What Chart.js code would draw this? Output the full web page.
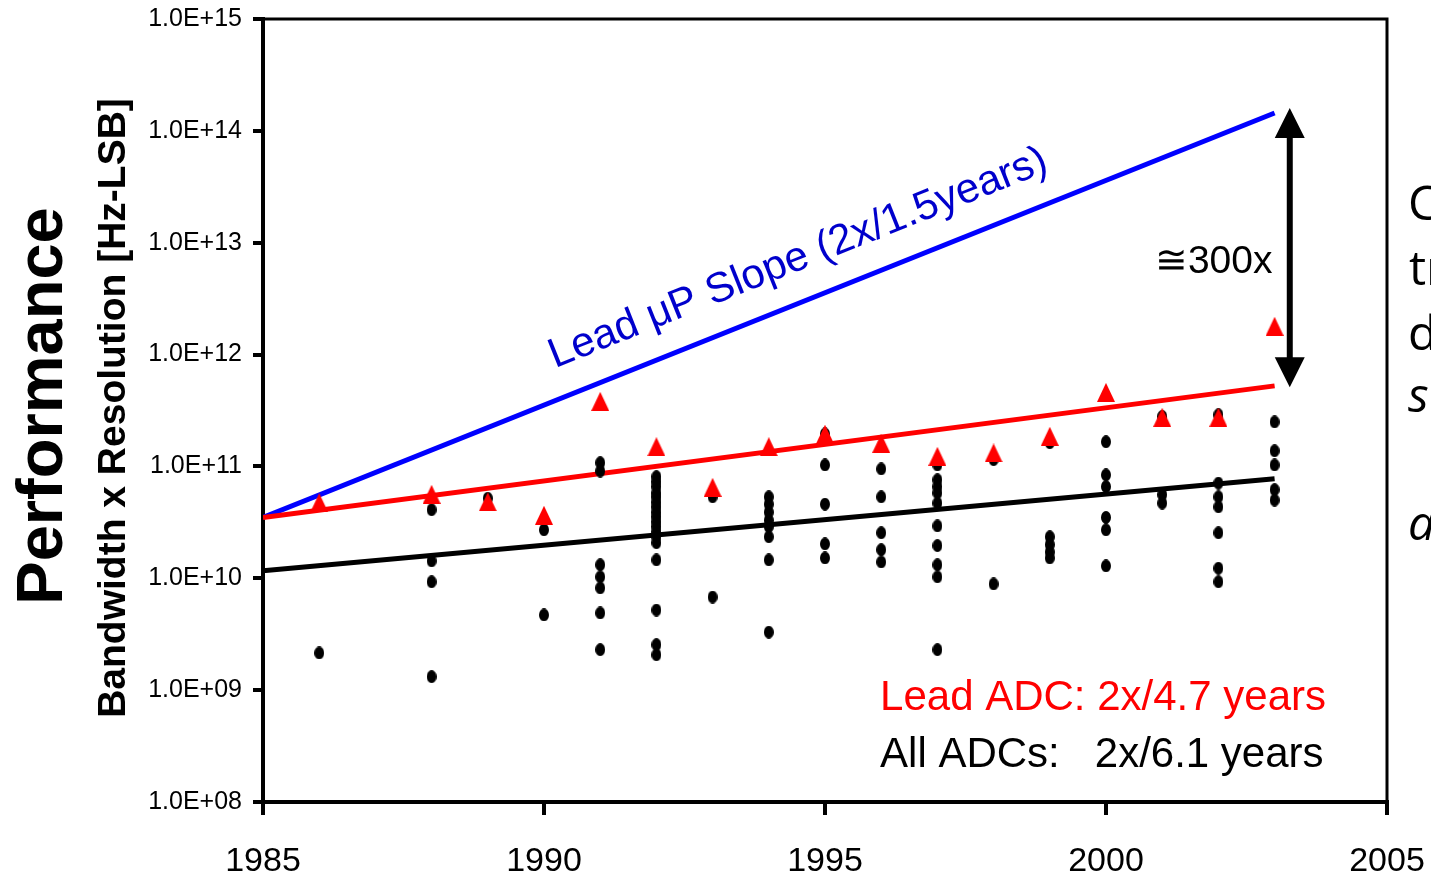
<!DOCTYPE html>
<html>
<head>
<meta charset="utf-8">
<title>ADC performance vs. microprocessor slope</title>
<script src="https://cdn.jsdelivr.net/npm/chart.js@4"></script>
<style>
  html, body { margin: 0; padding: 0; background: #fff; overflow: hidden; }
  #wrap { width: 1431px; height: 882px; position: relative; }
</style>
</head>
<body>
<div id="wrap"><canvas id="chart"></canvas></div>
<script>
// Axis ticks
const xTicks = [1985, 1990, 1995, 2000, 2005];
const yTicks = [1e8, 1e9, 1e10, 1e11, 1e12, 1e13, 1e14, 1e15];
const yTickLabels = ['1.0E+08', '1.0E+09', '1.0E+10', '1.0E+11', '1.0E+12', '1.0E+13', '1.0E+14', '1.0E+15'];

// Lead ADCs (red triangles), bandwidth x resolution [Hz-LSB]
const leadYears = [1986, 1988, 1989, 1990, 1991, 1992, 1993, 1994, 1995, 1996, 1997, 1998, 1999, 2000, 2001, 2002, 2003];
const leadValues = [4.73e10, 5.63e10, 4.83e10, 3.66e10, 3.82e11, 1.50e11, 6.5e10, 1.50e11, 1.94e11, 1.61e11, 1.23e11, 1.32e11, 1.86e11, 4.59e11, 2.75e11, 2.75e11, 1.79e12];

// All ADCs (black dots), one list of values per year
const allYears = [1986, 1988, 1989, 1990, 1991, 1992, 1993, 1994, 1995, 1996, 1997, 1998, 1999, 2000, 2001, 2002, 2003];
const allValues = [
  [2.15e9],
  [4.1e10, 1.43e10, 9.3e9, 1.32e9],
  [5.2e10],
  [2.71e10, 4.7e9],
  [1.08e11, 9.1e10, 1.32e10, 1.03e10, 8.2e9, 4.9e9, 2.3e9],
  [8.1e10, 7.3e10, 6.6e10, 5.8e10, 5.35e10, 4.8e10, 4.35e10, 3.9e10, 3.55e10, 3.2e10, 2.9e10, 2.6e10, 2.35e10, 2.08e10, 1.46e10, 5.2e9, 2.55e9, 2.07e9],
  [5.35e10, 6.8e9],
  [5.35e10, 4.6e10, 3.9e10, 3.3e10, 2.9e10, 2.35e10, 1.46e10, 3.3e9],
  [1.95e11, 1.03e11, 4.6e10, 2.03e10, 1.52e10],
  [9.5e10, 5.35e10, 2.55e10, 1.8e10, 1.4e10],
  [1.03e11, 7.6e10, 6.6e10, 5.8e10, 4.7e10, 2.94e10, 1.96e10, 1.32e10, 1.03e10, 2.3e9],
  [1.15e11, 8.9e9],
  [1.63e11, 2.35e10, 2.0e10, 1.72e10, 1.52e10],
  [1.66e11, 8.4e10, 6.6e10, 3.5e10, 2.71e10, 1.29e10],
  [2.8e11, 5.6e10, 4.7e10],
  [2.9e11, 7.1e10, 5.35e10, 4.35e10, 2.55e10, 1.23e10, 9.3e9],
  [2.5e11, 1.38e11, 1.03e11, 6.2e10, 5.0e10]
];

// Trend lines, 1985 -> 2003
const trendYears = [1985, 2003];
const upSlope = [3.5e10, 1.445e14];    // 2x / 1.5 years
const leadSlope = [3.5e10, 5.25e11];   // 2x / 4.7 years
const allSlope = [1.17e10, 7.75e10];   // 2x / 6.1 years

// ~300x gap arrow
const gapYear = 2003.27;
const gapFrom = 1.6e14;
const gapTo = 5.1e11;

// marker images (markers on the slide are a bit taller than wide)
function makeDot() {
  const c = document.createElement('canvas');
  c.width = 10; c.height = 13;
  const g = c.getContext('2d');
  g.fillStyle = '#000';
  g.beginPath();
  g.ellipse(5, 6.5, 5, 6.5, 0, 0, Math.PI * 2);
  g.fill();
  return c;
}
function makeTriangle() {
  const c = document.createElement('canvas');
  c.width = 18; c.height = 19;
  const g = c.getContext('2d');
  g.fillStyle = '#ff0000';
  g.beginPath();
  g.moveTo(9, 0); g.lineTo(18, 19); g.lineTo(0, 19);
  g.closePath();
  g.fill();
  return c;
}

const toPoints = (xs, ys) => xs.map((v, i) => ({x: v, y: ys[i]}));
const allPoints = allYears.flatMap((yr, i) => allValues[i].map(v => ({x: yr, y: v})));

function drawText(ctx, str, px, py, font, color, align, angle) {
  ctx.save();
  ctx.translate(px, py);
  if (angle) ctx.rotate(angle);
  ctx.font = font;
  ctx.fillStyle = color;
  ctx.textAlign = align || 'left';
  ctx.textBaseline = 'alphabetic';
  ctx.fillText(str, 0, 0);
  ctx.restore();
}

const decor = {
  id: 'decor',
  afterDraw(chart) {
    const {ctx, chartArea: a} = chart;
    const x = chart.scales.x, y = chart.scales.y;
    ctx.save();

    // top and right frame
    ctx.strokeStyle = '#000';
    ctx.lineWidth = 3;
    ctx.beginPath();
    ctx.moveTo(a.left, a.top);
    ctx.lineTo(a.right, a.top);
    ctx.lineTo(a.right, a.bottom);
    ctx.stroke();

    // double-headed arrow
    const ax = x.getPixelForValue(gapYear);
    const t = y.getPixelForValue(gapFrom);
    const b = y.getPixelForValue(gapTo);
    ctx.fillStyle = '#000';
    ctx.lineWidth = 6;
    ctx.beginPath();
    ctx.moveTo(ax, t + 25); ctx.lineTo(ax, b - 25);
    ctx.stroke();
    ctx.beginPath();
    ctx.moveTo(ax, t); ctx.lineTo(ax + 15, t + 30); ctx.lineTo(ax - 15, t + 30);
    ctx.closePath(); ctx.fill();
    ctx.beginPath();
    ctx.moveTo(ax, b); ctx.lineTo(ax + 15, b - 30); ctx.lineTo(ax - 15, b - 30);
    ctx.closePath(); ctx.fill();

    // axis titles
    drawText(ctx, 'Performance', 62, 406, 'bold 65px "Liberation Sans", Arial, sans-serif', '#000', 'center', -Math.PI / 2);
    drawText(ctx, 'Bandwidth x Resolution [Hz-LSB]', 125, 408, 'bold 39px "Liberation Sans", Arial, sans-serif', '#000', 'center', -Math.PI / 2);

    // uP slope label, parallel to the blue line
    const angle = Math.atan2(y.getPixelForValue(upSlope[1]) - y.getPixelForValue(upSlope[0]),
                             x.getPixelForValue(trendYears[1]) - x.getPixelForValue(trendYears[0]));
    drawText(ctx, 'Lead \u03bcP Slope (2x/1.5years)', x.getPixelForValue(1994.6), y.getPixelForValue(5.8e12),
             '42px "Liberation Sans", Arial, sans-serif', '#0000cc', 'center', angle);

    drawText(ctx, '\u2245300x', x.getPixelForValue(2000.87), y.getPixelForValue(5.37e12),
             '39px "Liberation Sans", Arial, sans-serif', '#000', 'left');

    drawText(ctx, 'Lead ADC: 2x/4.7 years', x.getPixelForValue(1995.98), y.getPixelForValue(6.7e8),
             '42px "Liberation Sans", Arial, sans-serif', '#ff0000', 'left');
    drawText(ctx, 'All ADCs:   2x/6.1 years', x.getPixelForValue(1995.98), y.getPixelForValue(2.07e8),
             '42px "Liberation Sans", Arial, sans-serif', '#000', 'left');

    // slide text cut off at the right edge
    const side = '48px "Open Sans", "Noto Sans", sans-serif';
    drawText(ctx, 'C', 1408, 220, side, '#000');
    drawText(ctx, 'tr', 1409, 285, side, '#000');
    drawText(ctx, 'd', 1408, 350, side, '#000');
    drawText(ctx, 's', 1408, 412, 'italic ' + side, '#000');
    drawText(ctx, 'a', 1408, 540, 'italic ' + side, '#000');

    ctx.restore();
  }
};

const ctx = document.getElementById('chart').getContext('2d');
const chart = new Chart(ctx, {
  type: 'scatter',
  data: {
    datasets: [
      {
        label: 'Lead ADCs',
        data: toPoints(leadYears, leadValues),
        pointStyle: makeTriangle(),
        pointRadius: 9,
        order: 0
      },
      {
        label: 'All ADCs',
        data: allPoints,
        pointStyle: makeDot(),
        pointRadius: 6,
        order: 1
      },
      {
        type: 'line',
        label: 'All ADC trend',
        data: toPoints(trendYears, allSlope),
        borderColor: '#000',
        borderWidth: 5,
        pointRadius: 0,
        order: 2
      },
      {
        type: 'line',
        label: 'Lead ADC trend',
        data: toPoints(trendYears, leadSlope),
        borderColor: '#ff0000',
        borderWidth: 5,
        pointRadius: 0,
        order: 2
      },
      {
        type: 'line',
        label: 'Lead uP slope',
        data: toPoints(trendYears, upSlope),
        borderColor: '#0000ff',
        borderWidth: 5,
        pointRadius: 0,
        order: 2
      }
    ]
  },
  options: {
    responsive: true,
    maintainAspectRatio: false,
    animation: false,
    layout: { padding: { top: 19, right: 44, left: 0, bottom: 0 } },
    plugins: { legend: { display: false }, tooltip: { enabled: false } },
    scales: {
      x: {
        type: 'linear',
        min: 1985,
        max: 2005,
        afterBuildTicks: s => { s.ticks = xTicks.map(v => ({value: v})); },
        afterFit: s => { s.height = 80; s.paddingLeft = 0; s.paddingRight = 0; },
        grid: { drawOnChartArea: false, tickLength: 13, lineWidth: 4, color: '#000' },
        border: { display: true, color: '#000', width: 4 },
        ticks: {
          color: '#000',
          padding: 26,
          maxRotation: 0,
          font: { family: '"Liberation Sans", Arial, sans-serif', size: 34 },
          callback: v => String(v)
        }
      },
      y: {
        type: 'logarithmic',
        min: 1e8,
        max: 1e15,
        afterBuildTicks: s => { s.ticks = yTicks.map(v => ({value: v})); },
        afterFit: s => { s.width = 263; s.paddingTop = 0; s.paddingBottom = 0; },
        grid: { drawOnChartArea: false, tickLength: 10, lineWidth: 4, color: '#000' },
        border: { display: true, color: '#000', width: 4 },
        ticks: {
          color: '#000',
          padding: 11,
          font: { family: '"Liberation Sans", Arial, sans-serif', size: 25 },
          callback: (v, i) => yTickLabels[i]
        }
      }
    }
  },
  plugins: [decor]
});
</script>
</body>
</html>
